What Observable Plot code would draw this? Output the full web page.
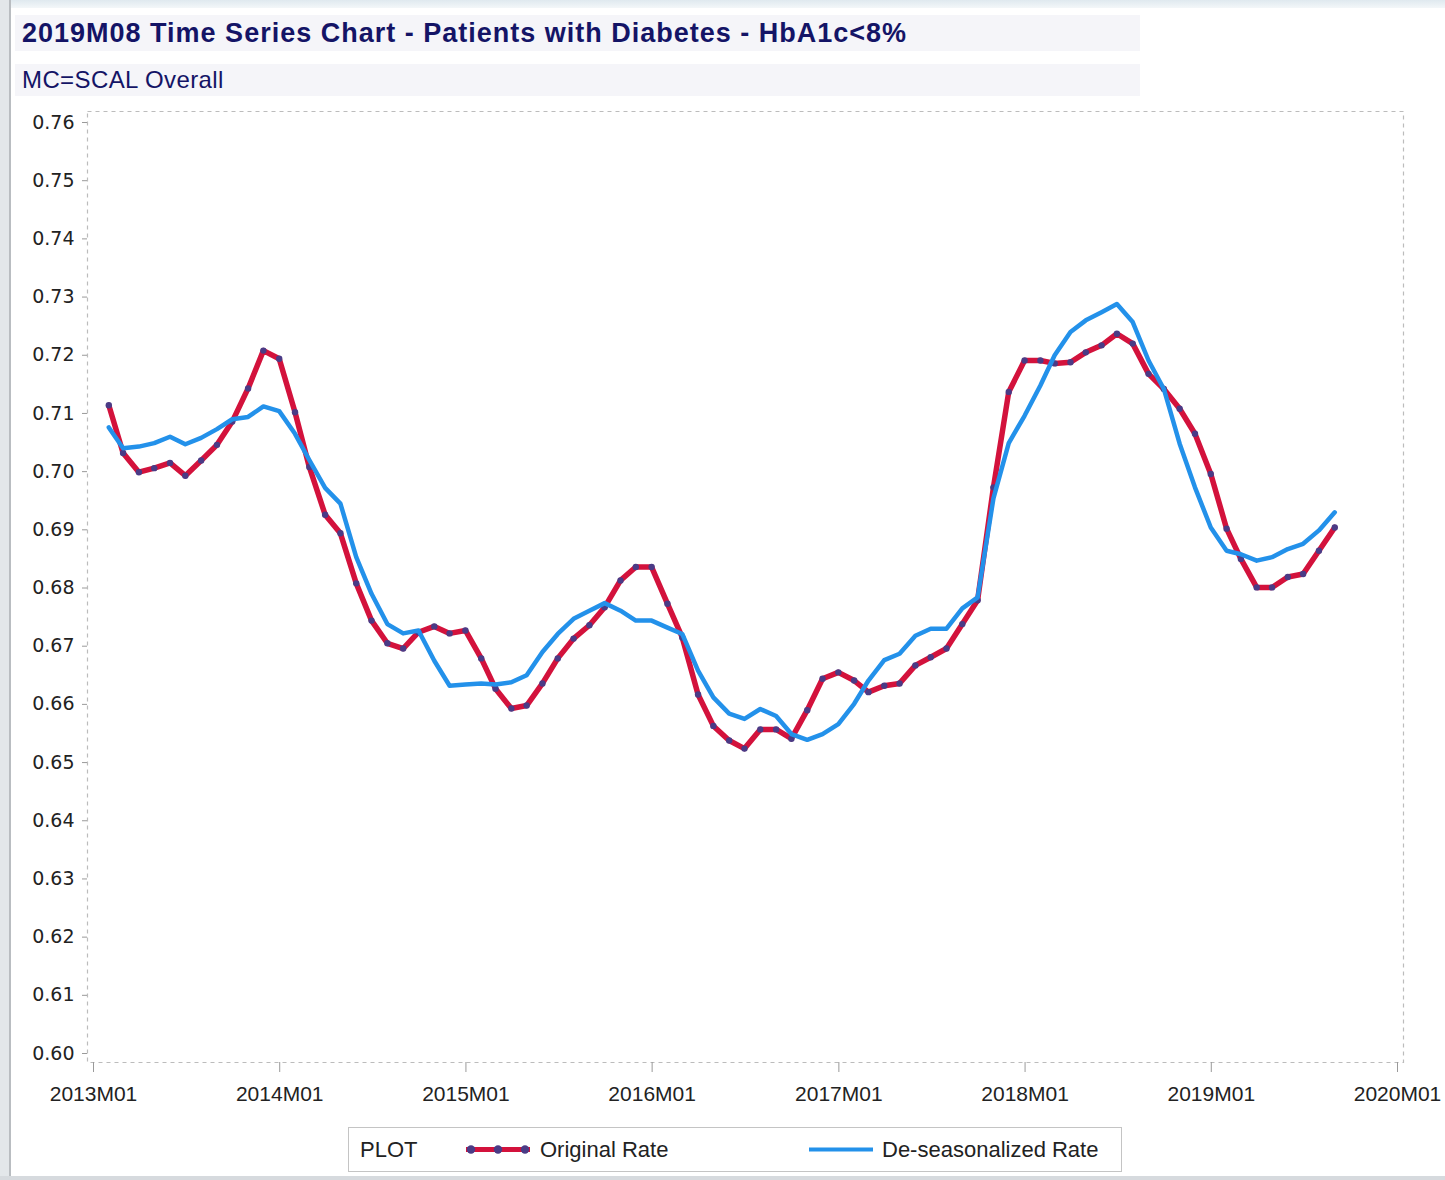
<!DOCTYPE html>
<html>
<head>
<meta charset="utf-8">
<script src="https://cdn.jsdelivr.net/npm/d3@7"></script>
<script src="https://cdn.jsdelivr.net/npm/@observablehq/plot@0.6"></script>
<style>
  html, body { margin: 0; padding: 0; background: #ffffff; }
  #page { position: relative; width: 1445px; height: 1180px; overflow: hidden; background: #ffffff; font-family: "Liberation Sans", Arial, sans-serif; }
  #leftbar { position: absolute; left: 0; top: 0; width: 9px; height: 1180px; background: #e3e7ea; border-right: 2px solid #b9bdc1; }
  #topbar { position: absolute; left: 0; top: 0; width: 1445px; height: 8px; background: linear-gradient(#dfe9ef, #f3f7f9); }
  #bottombar { position: absolute; left: 0; top: 1176px; width: 1445px; height: 4px; background: #d6dade; }
  .band { position: absolute; left: 15px; width: 1125px; background: #f5f5f9; color: #141466; white-space: nowrap; }
  #title { top: 15px; height: 36px; font-weight: bold; font-size: 27px; line-height: 36px; padding-left: 7px; box-sizing: border-box; letter-spacing: 1px; }
  #subtitle { top: 64px; height: 32px; font-size: 24px; line-height: 32px; padding-left: 7px; box-sizing: border-box; letter-spacing: 0.4px; }
  #chart { position: absolute; left: 0; top: 100px; }
  #legend { position: absolute; left: 348px; top: 1127px; width: 774px; height: 45px; border: 1px solid #c4c4c4; box-sizing: border-box; background: #fff; color: #222; font-size: 22px; }
  #legend span { position: absolute; top: 0; line-height: 43px; white-space: nowrap; }
  #legend svg { position: absolute; top: 0; }
</style>
</head>
<body>
<div id="page">
  <div id="topbar"></div>
  <div id="leftbar"></div>
  <div id="bottombar"></div>
  <div class="band" id="title">2019M08 Time Series Chart - Patients with Diabetes - HbA1c&lt;8%</div>
  <div class="band" id="subtitle">MC=SCAL Overall</div>
  <div id="chart"></div>
  <div id="legend">
    <span style="left:11px">PLOT</span>
    <svg id="lg1" width="70" height="43" style="left:114px"></svg>
    <span style="left:191px">Original Rate</span>
    <svg id="lg2" width="70" height="43" style="left:457px"></svg>
    <span style="left:533px">De-seasonalized Rate</span>
  </div>
</div>
<script>
// Monthly periods 2013M01 .. 2019M08
const periods = d3.utcMonth.range(new Date(Date.UTC(2013, 0, 1)), new Date(Date.UTC(2019, 8, 1)));

const originalRate = [
  0.7114, 0.7032, 0.6999, 0.7006, 0.7015, 0.6993, 0.7019, 0.7046, 0.7086, 0.7143, 0.7208, 0.7194,
  0.7102, 0.7008, 0.6926, 0.6894, 0.6808, 0.6744, 0.6705, 0.6696, 0.6724, 0.6734, 0.6722, 0.6727,
  0.6679, 0.6627, 0.6593, 0.6598, 0.6636, 0.6679, 0.6713, 0.6736, 0.6767, 0.6813, 0.6836, 0.6836,
  0.6773, 0.6715, 0.6617, 0.6563, 0.6538, 0.6524, 0.6557, 0.6557, 0.6541, 0.6590, 0.6644, 0.6655,
  0.6641, 0.6621, 0.6632, 0.6636, 0.6667, 0.6681, 0.6696, 0.6738, 0.6779, 0.6973, 0.7137, 0.7191,
  0.7191, 0.7186, 0.7188, 0.7205, 0.7217, 0.7237, 0.7220, 0.7168, 0.7142, 0.7108, 0.7065, 0.6996,
  0.6902, 0.6850, 0.6801, 0.6801, 0.6819, 0.6824, 0.6864, 0.6904
];

const deseasonalizedRate = [
  0.7076, 0.7040, 0.7043, 0.7049, 0.7060, 0.7047, 0.7058, 0.7073, 0.7090, 0.7094, 0.7112, 0.7104,
  0.7065, 0.7020, 0.6972, 0.6945, 0.6853, 0.6790, 0.6738, 0.6722, 0.6727, 0.6675, 0.6632, 0.6634,
  0.6636, 0.6634, 0.6638, 0.6650, 0.6690, 0.6721, 0.6747, 0.6761, 0.6774, 0.6761, 0.6744, 0.6744,
  0.6732, 0.6721, 0.6658, 0.6612, 0.6584, 0.6575, 0.6592, 0.6580, 0.6549, 0.6539, 0.6549, 0.6566,
  0.6601, 0.6641, 0.6676, 0.6687, 0.6718, 0.6730, 0.6730, 0.6765, 0.6784, 0.6954, 0.7049, 0.7096,
  0.7148, 0.7200, 0.7240, 0.7260, 0.7274, 0.7288, 0.7257, 0.7191, 0.7142, 0.7048, 0.6973, 0.6904,
  0.6864, 0.6858, 0.6847, 0.6853, 0.6867, 0.6876, 0.6899, 0.6930
];

const yTicks = [0.60, 0.61, 0.62, 0.63, 0.64, 0.65, 0.66, 0.67, 0.68, 0.69, 0.70, 0.71, 0.72, 0.73, 0.74, 0.75, 0.76];
const xTickYears = [2013, 2014, 2015, 2016, 2017, 2018, 2019, 2020];

const RED = "#d3123c";
const DOT = "#4a3b86";
const BLUE = "#2391ea";

// each monthly value is plotted at the end of its month
const endOfMonth = (m) => d3.utcDay.offset(d3.utcMonth.offset(m, 1), -1);
const origData = periods.map((m, i) => ({date: endOfMonth(m), value: originalRate[i]}));
const desData = periods.map((m, i) => ({date: endOfMonth(m), value: deseasonalizedRate[i]}));
const xTicks = xTickYears.map(y => new Date(Date.UTC(y, 0, 1)));

const chart = Plot.plot({
  width: 1445,
  height: 1010,
  marginLeft: 87,
  marginRight: 42,
  marginTop: 11,
  marginBottom: 48,
  style: {fontFamily: "'Liberation Sans', Arial, sans-serif", background: "transparent", color: "#222"},
  x: {type: "utc", domain: [xTicks[0], xTicks[xTicks.length - 1]], insetLeft: 6, insetRight: 6, label: null},
  y: {domain: [0.60, 0.76], insetTop: 11, insetBottom: 9, label: null},
  marks: [
    Plot.frame({stroke: "#bcbcbc", strokeDasharray: "4,4", strokeWidth: 1.2}),
    Plot.axisY({ticks: yTicks, tickFormat: d3.format(".2f"), tickSize: 5, tickPadding: 8, fontSize: 19,
      fontFamily: "'DejaVu Sans', Verdana, sans-serif", stroke: "#9a9a9a", fill: "#222", label: null}),
    Plot.axisX({ticks: xTicks, tickFormat: d3.utcFormat("%YM%m"), tickSize: 10, tickPadding: 14, fontSize: 21,
      stroke: "#9a9a9a", fill: "#222", label: null}),
    Plot.line(origData, {x: "date", y: "value", stroke: RED, strokeWidth: 5.5, strokeLinejoin: "round"}),
    Plot.dot(origData, {x: "date", y: "value", r: 3.2, fill: DOT, stroke: "none"}),
    Plot.line(desData, {x: "date", y: "value", stroke: BLUE, strokeWidth: 4.5, strokeLinejoin: "round"})
  ]
});
document.getElementById("chart").appendChild(chart);

// legend samples
const lg1 = d3.select("#lg1");
lg1.append("line").attr("x1", 3).attr("x2", 67).attr("y1", 21.5).attr("y2", 21.5).attr("stroke", RED).attr("stroke-width", 5);
[8, 35, 62].forEach(cx => lg1.append("circle").attr("cx", cx).attr("cy", 21.5).attr("r", 4.2).attr("fill", DOT));
const lg2 = d3.select("#lg2");
lg2.append("line").attr("x1", 3).attr("x2", 67).attr("y1", 21.5).attr("y2", 21.5).attr("stroke", BLUE).attr("stroke-width", 4);
</script>
</body>
</html>
